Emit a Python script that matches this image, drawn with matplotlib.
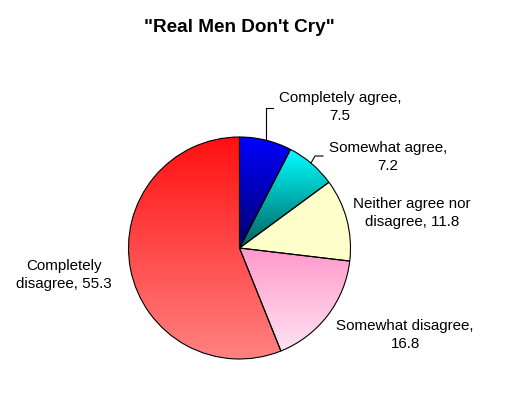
import numpy as np
import matplotlib
matplotlib.use("Agg")
import matplotlib.pyplot as plt
from matplotlib.colors import LinearSegmentedColormap

plt.rcParams["font.family"] = ["Liberation Sans", "DejaVu Sans"]

labels = ["Completely agree", "Somewhat agree", "Neither agree nor\ndisagree",
          "Somewhat disagree", "Completely\ndisagree"]
values = [7.5, 7.2, 11.8, 16.8, 55.3]
# (top colour, bottom colour) of each slice's vertical gradient
grads = [("#0000FF", "#00006E"),
         ("#00FFFF", "#005F5F"),
         ("#FFFFCC", "#FFFFCC"),
         ("#FF99CC", "#FFE2F0"),
         ("#FF1010", "#FF8282")]

W, H = 517, 394
fig = plt.figure(figsize=(W / 100, H / 100), dpi=100)
ax = fig.add_axes([0, 0, 1, 1])

cx, cy, r = 239.5, H - 248, 111
wedges, _ = ax.pie(values, center=(cx, cy), radius=r, startangle=90,
                   counterclock=False,
                   wedgeprops=dict(edgecolor="black", linewidth=0.8, facecolor="none"))

for w, (c_top, c_bot) in zip(wedges, grads):
    verts = w.get_path().vertices
    x0, x1 = verts[:, 0].min(), verts[:, 0].max()
    y0, y1 = verts[:, 1].min(), verts[:, 1].max()
    cmap = LinearSegmentedColormap.from_list("g", [c_bot, c_top])
    grad = np.linspace(0, 1, 256).reshape(-1, 1)
    im = ax.imshow(grad, cmap=cmap, extent=(x0, x1, y0, y1), origin="lower",
                   aspect="auto", zorder=0.5, interpolation="bilinear")
    im.set_clip_path(w)
    w.set_zorder(1)

ax.set_xlim(0, W)
ax.set_ylim(0, H)
ax.set_aspect("auto")
ax.axis("off")

# label text for each slice
texts = [f"{labels[0]},\n{values[0]}", f"{labels[1]},\n{values[1]}",
         f"{labels[2]}, {values[2]}", f"{labels[3]},\n{values[3]}",
         f"{labels[4]}, {values[4]}"]
pos = [(340, 107), (388, 157), (412, 213), (405, 335), (64, 275)]
for t, (x, y) in zip(texts, pos):
    ax.text(x, H - y, t, ha="center", va="center", fontsize=10.9,
            linespacing=1.4, color="black")

# leader lines
ax.plot([265.5, 265.5, 273], [H - 140, H - 108, H - 108], color="black", lw=0.8)
ax.plot([311, 315, 323], [H - 163, H - 156, H - 156], color="black", lw=0.8)

ax.text(239, H - 27, "\"Real Men Don't Cry\"", ha="center", va="center",
        fontsize=13.7, fontweight="bold")

fig.savefig("out.png", dpi=100)
